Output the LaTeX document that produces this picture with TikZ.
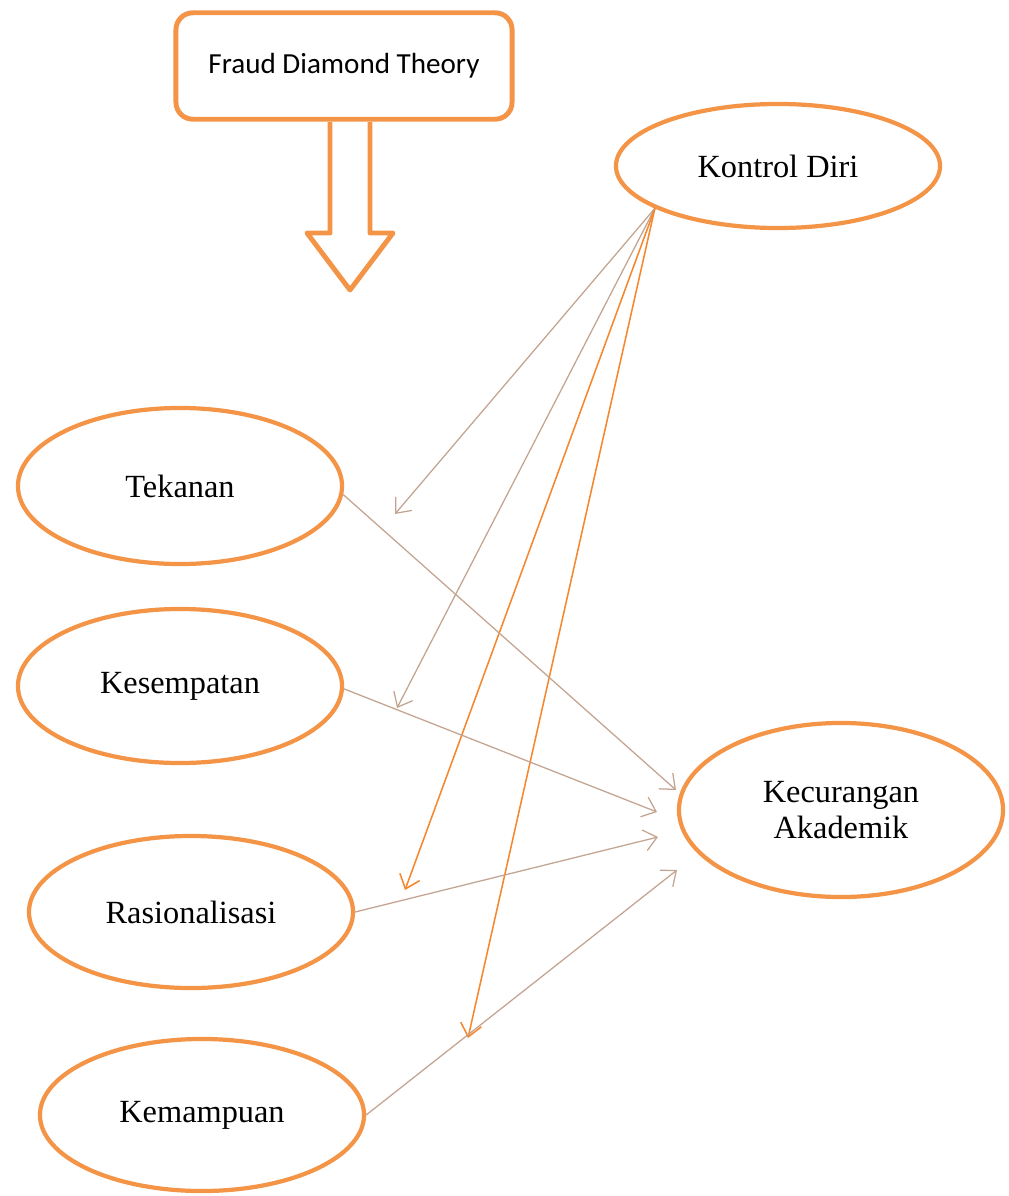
\documentclass[tikz,border=0pt]{standalone}
\usepackage{fontspec}
\setmainfont{Liberation Serif}
\newfontfamily\calibri{Carlito}
\usetikzlibrary{arrows.meta,shapes.geometric}
\definecolor{Peach}{HTML}{F39447}
\definecolor{Flame}{HTML}{F5872E}
\definecolor{Taupe}{HTML}{C3A491}
\tikzset{
  varbox/.style={ellipse, draw=Peach, line width=3pt, fill=white,
    minimum width=8.1cm, align=center, font=\fontsize{23}{25}\selectfont},
  thinarr/.style={-{Straight Barb[length=9pt,width=15pt]}, line width=0.9pt, color=Taupe},
  hotarr/.style={-{Straight Barb[length=9pt,width=15pt]}, line width=1.1pt, color=Flame},
}

\begin{document}
\begin{tikzpicture}[x=0.025cm, y=-0.025cm]
  \useasboundingbox (0,0) rectangle (1008,1196);
  % theory box with its block arrow
  \node[draw=Peach, line width=3.5pt, rounded corners=12pt, minimum width=8.4cm,
    minimum height=2.66cm, font=\calibri\fontsize{20.7}{24}\selectfont]
    (fdt) at (344,66) {Fraud Diamond Theory};
  \draw[Peach, line width=3.5pt, line join=round]
    (330,122) -- (330,233) -- (307,233) -- (350,290) -- (393,233) -- (370,233) -- (370,122);
  % variables
  \node[varbox, minimum height=3.1cm] (kd) at (778,166) {Kontrol Diri};
  \node[varbox, minimum height=3.9cm] (tek) at (180,486) {Tekanan};
  \node[varbox, minimum height=3.85cm] (kes) at (180,686) {Kesempatan};
  \node[varbox, minimum height=3.8cm] (ras) at (191,912) {Rasionalisasi};
  \node[varbox, minimum height=3.8cm] (kem) at (202,1115) {Kemampuan};
  \node[varbox, minimum height=4.35cm] (ka) at (841,810) {Kecurangan\\Akademik};
  % free arrow ends
  \coordinate (m1) at (395,514);
  \coordinate (m2) at (397,708);
  \coordinate (m3) at (405,890);
  \coordinate (m4) at (468,1038);
  \coordinate (k1) at (676,790);
  \coordinate (k2) at (657,812);
  \coordinate (k3) at (658,837);
  \coordinate (k4) at (677,870);
  % moderating arrows
  \draw[thinarr] (kd.199) -- (m1);
  \draw[thinarr] (kd.199) -- (m2);
  \draw[hotarr] (kd.199) -- (m3);
  \draw[hotarr] (kd.199) -- (m4);
  % direct arrows
  \draw[thinarr] (tek.-3) -- (k1);
  \draw[thinarr] (kes.-1) -- (k2);
  \draw[thinarr] (ras.east) -- (k3);
  \draw[thinarr] (kem.east) -- (k4);
\end{tikzpicture}
\end{document}
